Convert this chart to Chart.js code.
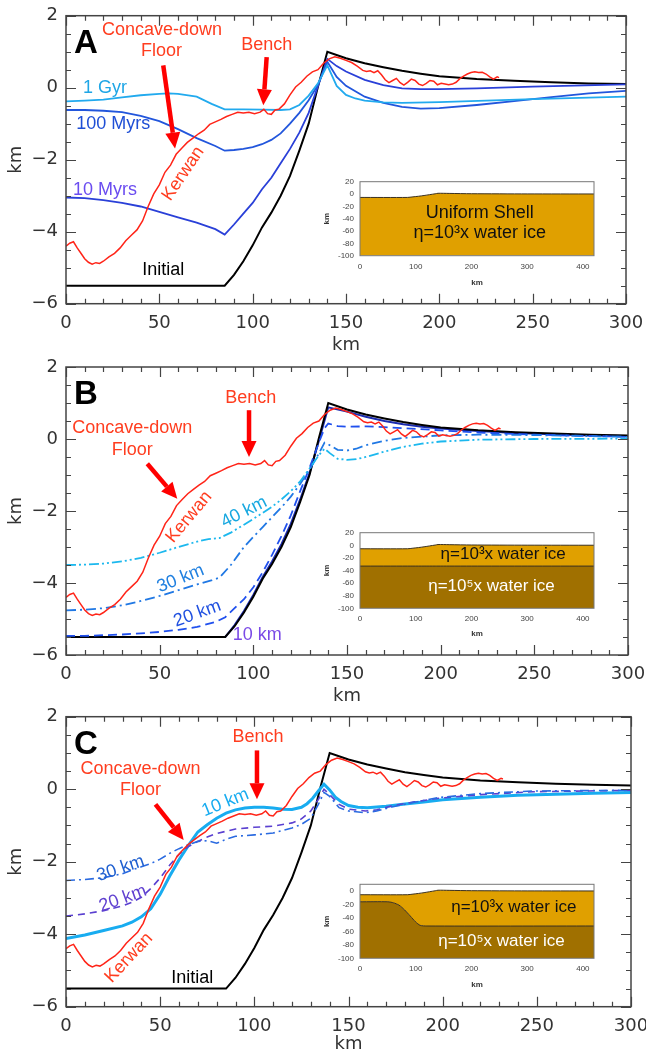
<!DOCTYPE html>
<html>
<head>
<meta charset="utf-8">
<script src="https://cdn.jsdelivr.net/npm/chart.js@4.4.1/dist/chart.umd.min.js"></script>
<style>
  body { margin: 0; background: #fff; }
  #wrap { position: relative; width: 646px; height: 1055px; overflow: hidden; }
  canvas { position: absolute; }
</style>
</head>
<body>
<div id="wrap">
  <canvas id="cA" width="646" height="356" style="left:0;top:0"></canvas>
  <canvas id="cB" width="646" height="356" style="left:0;top:351px"></canvas>
  <canvas id="cC" width="646" height="354" style="left:0;top:701px"></canvas>
  <canvas id="iA" width="278" height="112" style="left:322px;top:176px"></canvas>
  <canvas id="iB" width="278" height="112" style="left:322px;top:527px"></canvas>
  <canvas id="iC" width="278" height="112" style="left:322px;top:878px"></canvas>
</div>
<script>
// ---- profile data (km) ----
const kerwanX = [0,2,4,6,8,10,12,14,16,18,20,23,26,29,32,35,38,41,44,47,50,53,56,59,62,65,68,71,74,77,80,83,86,89,92,95,98,101,104,106,108,110,112,114,117,120,123,126,129,132,135,138,141,144,147,150,153,156,159,161,163,165,167,169,171,173,175,177,179,181,183,185,187,189,191,193,195,197,199,201,203,205,207,209,211,213,215,217,219,221,223,225,227,229,231,232];
const kerwanY = [-4.4,-4.32,-4.28,-4.45,-4.6,-4.75,-4.85,-4.9,-4.86,-4.88,-4.82,-4.7,-4.6,-4.45,-4.25,-4.1,-3.95,-3.7,-3.3,-2.95,-2.7,-2.35,-2.15,-1.85,-1.68,-1.52,-1.4,-1.28,-1.18,-1.02,-0.95,-0.88,-0.8,-0.74,-0.68,-0.7,-0.68,-0.72,-0.68,-0.6,-0.72,-0.74,-0.62,-0.6,-0.45,-0.2,0.02,0.15,0.32,0.44,0.5,0.68,0.8,0.86,0.82,0.76,0.7,0.6,0.48,0.45,0.47,0.42,0.47,0.36,0.22,0.14,0.2,0.26,0.14,0.07,0.15,0.24,0.2,0.1,0.06,0.12,0.2,0.18,0.08,0.12,0.1,0.08,0.1,0.15,0.25,0.32,0.38,0.42,0.44,0.42,0.43,0.38,0.3,0.24,0.3,0.28];

const initialX = [0,85,90,95,100,105,110,115,120,125,130,135,140,150,160,170,180,190,200,220,240,260,280,300];
const initialY = [-5.5,-5.5,-5.2,-4.82,-4.38,-3.88,-3.47,-3.0,-2.45,-1.75,-1.0,0.03,1.0,0.82,0.68,0.57,0.47,0.39,0.32,0.24,0.19,0.15,0.12,0.1];

// panel A: uniform shell, relaxation times
const gyr1X = [0,10,20,30,40,50,55,60,70,78,85,95,105,115,120,125,130,135,140,145,150,155,160,170,180,200,225,250,275,300];
const gyr1Y = [-0.38,-0.36,-0.33,-0.27,-0.21,-0.17,-0.16,-0.17,-0.25,-0.45,-0.6,-0.6,-0.61,-0.62,-0.6,-0.48,-0.22,0.12,0.62,0.05,-0.2,-0.3,-0.36,-0.41,-0.42,-0.4,-0.36,-0.32,-0.28,-0.25];
const myr100X = [0,10,20,30,40,50,60,70,80,85,90,95,100,105,110,115,120,125,130,135,140,145,150,160,170,180,190,200,220,240,260,280,300];
const myr100Y = [-0.62,-0.62,-0.64,-0.68,-0.78,-0.93,-1.15,-1.4,-1.62,-1.75,-1.73,-1.7,-1.65,-1.57,-1.45,-1.27,-1.0,-0.7,-0.35,0.08,0.72,0.3,0.05,-0.25,-0.42,-0.53,-0.58,-0.57,-0.48,-0.37,-0.26,-0.16,-0.09];
const myr10X = [0,10,20,30,40,50,60,70,80,85,90,95,100,105,110,115,120,125,130,135,140,145,150,160,170,180,190,200,220,250,300];
const myr10Y = [-3.05,-3.07,-3.12,-3.2,-3.3,-3.45,-3.6,-3.75,-3.93,-4.08,-3.8,-3.5,-3.2,-2.82,-2.5,-2.1,-1.7,-1.25,-0.7,0.05,0.8,0.6,0.45,0.22,0.07,-0.02,-0.04,-0.04,-0.02,0.03,0.09];

// panel B: two-layer shell, upper layer thickness
const b10X = [0,85,90,95,100,105,110,115,120,125,130,135,140,150,160,170,180,190,200,220,240,260,280,300];
const b10Y = [-5.5,-5.5,-5.17,-4.78,-4.33,-3.83,-3.4,-2.92,-2.36,-1.68,-0.95,-0.05,0.88,0.76,0.62,0.5,0.41,0.34,0.29,0.22,0.17,0.13,0.1,0.08];
const b20X = [0,10,20,30,40,50,60,70,80,85,90,95,100,105,110,115,120,125,130,135,138,140,145,150,160,170,180,200,220,250,300];
const b20Y = [-5.47,-5.47,-5.45,-5.43,-5.4,-5.36,-5.3,-5.22,-5.08,-4.95,-4.7,-4.45,-4.12,-3.7,-3.22,-2.7,-2.12,-1.45,-0.8,-0.1,0.3,0.43,0.36,0.34,0.35,0.33,0.3,0.24,0.18,0.12,0.06];
const b30X = [0,10,20,30,40,50,60,70,78,82,88,95,100,105,110,115,120,125,130,135,138,140,145,150,155,160,170,180,200,220,250,300];
const b30Y = [-4.76,-4.74,-4.7,-4.62,-4.5,-4.36,-4.2,-4.04,-3.92,-3.85,-3.5,-3.0,-2.72,-2.45,-2.17,-1.9,-1.6,-1.25,-0.85,-0.4,-0.1,-0.15,-0.3,-0.32,-0.27,-0.17,-0.05,0.03,0.1,0.12,0.11,0.06];
const b40X = [0,10,20,30,40,50,60,70,76,82,88,95,100,105,110,115,120,125,130,135,138,141,145,150,155,160,170,180,190,200,220,250,300];
const b40Y = [-3.5,-3.49,-3.46,-3.4,-3.3,-3.16,-3.0,-2.85,-2.78,-2.75,-2.6,-2.38,-2.22,-2.05,-1.88,-1.68,-1.45,-1.18,-0.82,-0.45,-0.27,-0.4,-0.55,-0.58,-0.56,-0.5,-0.35,-0.22,-0.13,-0.07,-0.02,0.0,0.01];

// panel C: two-layer shell with thinned lower layer under the crater
const c10X = [0,10,20,30,35,40,45,50,55,60,65,70,75,80,85,90,95,100,105,110,115,120,125,128,131,134,137,140,143,146,150,155,160,170,180,190,200,220,240,260,280,300];
const c10Y = [-4.12,-4.02,-3.9,-3.77,-3.67,-3.52,-3.3,-2.9,-2.4,-1.95,-1.55,-1.18,-0.98,-0.8,-0.66,-0.57,-0.52,-0.5,-0.5,-0.52,-0.55,-0.56,-0.5,-0.4,-0.25,-0.05,0.14,-0.02,-0.22,-0.34,-0.45,-0.5,-0.51,-0.47,-0.41,-0.35,-0.29,-0.22,-0.17,-0.14,-0.11,-0.09];
const c20X = [0,10,20,30,35,40,45,50,55,60,65,70,75,80,90,100,110,120,125,130,134,137,140,145,150,159,165,173,185,198,220,248,300];
const c20Y = [-3.5,-3.44,-3.35,-3.22,-3.12,-2.98,-2.74,-2.45,-2.1,-1.8,-1.58,-1.44,-1.32,-1.22,-1.1,-1.05,-1.02,-0.93,-0.82,-0.6,-0.28,0.0,-0.15,-0.42,-0.55,-0.6,-0.57,-0.46,-0.35,-0.25,-0.15,-0.07,-0.03];
const c30X = [0,10,20,30,35,40,45,50,55,60,65,70,75,80,85,90,100,110,120,125,130,134,137,140,145,150,159,165,173,185,198,220,248,300];
const c30Y = [-2.52,-2.49,-2.44,-2.33,-2.23,-2.14,-2.05,-1.93,-1.77,-1.64,-1.53,-1.44,-1.42,-1.49,-1.38,-1.3,-1.26,-1.21,-1.07,-0.97,-0.8,-0.42,-0.09,-0.2,-0.51,-0.6,-0.65,-0.6,-0.49,-0.36,-0.23,-0.12,-0.05,-0.03];

// insets: shell cross sections (km)
const insetX = [0,85,95,105,115,125,135,140,160,200,300,420];
const insetSurface = [-5.5,-5.5,-4.6,-3.6,-2.4,-1.0,0.4,1.2,1.0,0.5,0.2,0.1];
const insetLayerB = [-33,-33,-33,-33,-33,-33,-33,-33,-33,-33,-33,-33];
const insetLayerCX = [0,50,60,70,80,90,100,108,120,420];
const insetLayerCY = [-16,-16,-17.5,-21,-28,-37,-46,-51,-52,-52];
const insetTicksX = [0,100,200,300,400];
const insetTicksAB = [20,0,-20,-40,-60,-80,-100];
const insetTicksC = [0,-20,-40,-60,-80,-100];

const RED = '#ff2418';
const RED_TXT = '#ff3d1f';
const TICK_FONT = { family: 'DejaVu Sans', size: 18 };
const NOTE_FONT = '18px "Liberation Sans"';

function pts(xs, ys) { return xs.map((x, i) => ({ x: x, y: ys[i] })); }
function line(xs, ys, color, width, dash) {
  return { data: pts(xs, ys), borderColor: color, borderWidth: width, borderDash: dash || [], pointRadius: 0, tension: 0, fill: false };
}
function minus(v) { return v < 0 ? '\u2212' + Math.abs(v) : String(v); }

// keep the plot area where the layout padding puts it
function fixX(h) { return s => { s.height = h; s.paddingLeft = 0; s.paddingRight = 0; }; }
function fixY(w) { return s => { s.width = w; s.paddingTop = 0; s.paddingBottom = 0; }; }

function drawArrow(ctx, x0, y0, x1, y1) {
  const ang = Math.atan2(y1 - y0, x1 - x0);
  const head = 16, half = 7.5;
  const bx = x1 - head * Math.cos(ang), by = y1 - head * Math.sin(ang);
  ctx.strokeStyle = '#ff0000';
  ctx.fillStyle = '#ff0000';
  ctx.lineWidth = 4.5;
  ctx.beginPath(); ctx.moveTo(x0, y0); ctx.lineTo(bx, by); ctx.stroke();
  ctx.beginPath();
  ctx.moveTo(x1, y1);
  ctx.lineTo(bx + half * Math.sin(ang), by - half * Math.cos(ang));
  ctx.lineTo(bx - half * Math.sin(ang), by + half * Math.cos(ang));
  ctx.closePath(); ctx.fill();
}

const deco = {
  id: 'deco',
  beforeDraw(chart, args, o) {
    if (!o.whiteBg) return;
    const a = chart.chartArea, c = chart.ctx;
    c.save(); c.fillStyle = '#fff'; c.fillRect(a.left, a.top, a.width, a.height); c.restore();
  },
  afterDraw(chart, args, o) {
    const ctx = chart.ctx, a = chart.chartArea, sx = chart.scales.x, sy = chart.scales.y;
    ctx.save();
    if (o.ticks) {
      ctx.strokeStyle = '#444'; ctx.lineWidth = 1.2;
      ctx.beginPath();
      for (let v = sx.min; v <= sx.max + 1e-6; v += o.ticks.xMinor) {
        const px = Math.round(sx.getPixelForValue(v)) + 0.5;
        const len = Math.abs(v % o.ticks.xMajor) < 1e-6 ? 10 : 5;
        ctx.moveTo(px, a.bottom); ctx.lineTo(px, a.bottom - len);
        ctx.moveTo(px, a.top); ctx.lineTo(px, a.top + len);
      }
      for (let v = sy.min; v <= sy.max + 1e-6; v += o.ticks.yMinor) {
        const py = Math.round(sy.getPixelForValue(v)) + 0.5;
        const len = Math.abs(v % o.ticks.yMajor) < 1e-6 ? 10 : 5;
        ctx.moveTo(a.left, py); ctx.lineTo(a.left + len, py);
        ctx.moveTo(a.right, py); ctx.lineTo(a.right - len, py);
      }
      ctx.stroke();
    }
    ctx.strokeStyle = o.frameColor; ctx.lineWidth = o.frameWidth;
    ctx.strokeRect(a.left, a.top, a.width, a.height);
    (o.arrows || []).forEach(r => drawArrow(ctx, sx.getPixelForValue(r[0]), sy.getPixelForValue(r[1]), sx.getPixelForValue(r[2]), sy.getPixelForValue(r[3])));
    (o.notes || []).forEach(n => {
      ctx.save();
      ctx.translate(sx.getPixelForValue(n.x), sy.getPixelForValue(n.y));
      ctx.rotate((n.r || 0) * Math.PI / 180);
      ctx.fillStyle = n.c; ctx.font = n.f || NOTE_FONT;
      ctx.textAlign = 'center'; ctx.textBaseline = 'middle';
      ctx.fillText(n.t, 0, 0);
      ctx.restore();
    });
    if (o.letter) {
      ctx.fillStyle = '#000'; ctx.font = 'bold 33px "Liberation Sans"';
      ctx.textAlign = 'left'; ctx.textBaseline = 'alphabetic';
      ctx.fillText(o.letter, a.left + 8, a.top + 37);
    }
    ctx.restore();
  }
};

function mainPanel(id, datasets, pad, deco_opts) {
  return new Chart(document.getElementById(id), {
    type: 'line',
    data: { datasets: datasets },
    options: {
      responsive: false, animation: false, devicePixelRatio: 1,
      layout: { padding: { top: pad.top, right: pad.right, left: 0, bottom: 0 } },
      plugins: { legend: { display: false }, tooltip: { enabled: false }, deco: deco_opts },
      scales: {
        x: {
          type: 'linear', min: 0, max: 300,
          afterFit: fixX(pad.axis),
          grid: { display: false, drawTicks: false }, border: { display: false },
          ticks: { stepSize: 50, padding: 9, maxRotation: 0, font: TICK_FONT, color: '#333' },
          title: { display: true, text: 'km', font: TICK_FONT, color: '#333', padding: { top: 0, bottom: 0 } }
        },
        y: {
          type: 'linear', min: -6, max: 2,
          afterFit: fixY(66),
          grid: { display: false, drawTicks: false }, border: { display: false },
          ticks: { stepSize: 2, padding: 8, font: TICK_FONT, color: '#333', callback: minus },
          title: { display: true, text: 'km', font: TICK_FONT, color: '#333', padding: { top: 6, bottom: 0 } }
        }
      }
    },
    plugins: [deco]
  });
}

const tickSpec = { xMinor: 10, xMajor: 50, yMinor: 0.5, yMajor: 2 };
const frame = { frameColor: '#444', frameWidth: 1.5, ticks: tickSpec };

mainPanel('cA', [
  line(kerwanX, kerwanY, RED, 1.5),
  line(gyr1X, gyr1Y, '#22aaee', 1.8),
  line(myr100X, myr100Y, '#2256dc', 1.8),
  line(myr10X, myr10Y, '#2a40d8', 1.8),
  line(initialX, initialY, '#000', 2)
], { top: 15.7, right: 20, axis: 52.3 }, Object.assign({
  letter: 'A',
  arrows: [[52.1, 0.62, 58.4, -1.69], [107.5, 0.85, 105.7, -0.49]],
  notes: [
    { t: 'Concave-down', x: 51.4, y: 1.61, c: RED_TXT },
    { t: 'Floor', x: 51.2, y: 1.02, c: RED_TXT },
    { t: 'Bench', x: 107.5, y: 1.19, c: RED_TXT },
    { t: '1 Gyr', x: 20.9, y: 0.0, c: '#1fa6e6' },
    { t: '100 Myrs', x: 25.3, y: -1.0, c: '#1f4fd6' },
    { t: '10 Myrs', x: 20.9, y: -2.83, c: '#6a4cf0' },
    { t: 'Kerwan', x: 62.8, y: -2.39, c: RED_TXT, r: -56 },
    { t: 'Initial', x: 52.1, y: -5.07, c: '#000' }
  ]
}, frame));

mainPanel('cB', [
  line(kerwanX, kerwanY, RED, 1.5),
  line(b40X, b40Y, '#1cb8ee', 1.8, [10, 3, 2, 3, 2, 3]),
  line(b30X, b30Y, '#2078e4', 1.8, [10, 4, 2, 4]),
  line(b20X, b20Y, '#2050ee', 1.8, [9, 5]),
  line(initialX, initialY, '#000', 2),
  line(b10X, b10Y, '#1c2cb0', 2)
], { top: 16, right: 18, axis: 52 }, Object.assign({
  letter: 'B',
  arrows: [[97.7, 0.8, 97.7, -0.5], [43.4, -0.69, 59.4, -1.66]],
  notes: [
    { t: 'Bench', x: 98.6, y: 1.15, c: RED_TXT },
    { t: 'Concave-down', x: 35.4, y: 0.31, c: RED_TXT },
    { t: 'Floor', x: 35.4, y: -0.3, c: RED_TXT },
    { t: 'Kerwan', x: 65.7, y: -2.17, c: RED_TXT, r: -50 },
    { t: '40 km', x: 95, y: -2.03, c: '#18a8e0', r: -27 },
    { t: '30 km', x: 61.2, y: -3.88, c: '#2080e0', r: -22 },
    { t: '20 km', x: 70.1, y: -4.85, c: '#2050e0', r: -20 },
    { t: '10 km', x: 102.1, y: -5.45, c: '#7a4ae6' }
  ]
}, frame));

mainPanel('cC', [
  line(kerwanX, kerwanY, RED, 1.5),
  line(c30X, c30Y, '#2a6ae0', 1.6, [9, 4, 2, 4]),
  line(c20X, c20Y, '#5a40d0', 1.6, [7, 5]),
  line(c10X, c10Y, '#18acf0', 3),
  line(initialX, initialY, '#000', 2)
], { top: 15.7, right: 15, axis: 48.3 }, Object.assign({
  letter: 'C',
  arrows: [[101.4, 1.07, 101.4, -0.28], [47.5, -0.42, 62.5, -1.4]],
  notes: [
    { t: 'Bench', x: 101.9, y: 1.44, c: RED_TXT },
    { t: 'Concave-down', x: 39.6, y: 0.56, c: RED_TXT },
    { t: 'Floor', x: 39.6, y: -0.03, c: RED_TXT },
    { t: '10 km', x: 84.6, y: -0.37, c: '#18acf0', r: -22 },
    { t: '30 km', x: 29, y: -2.19, c: '#2060d0', r: -19 },
    { t: '20 km', x: 30.2, y: -3.02, c: '#6040d0', r: -20 },
    { t: 'Kerwan', x: 33.4, y: -4.65, c: RED_TXT, r: -47 },
    { t: 'Initial', x: 67, y: -5.21, c: '#000' }
  ]
}, frame));

// ---- insets ----
const ORANGE = '#e0a000';
const BROWN = '#a07000';
const SMALL = { family: 'Liberation Sans', size: 8 };
const SMALL_B = { family: 'Liberation Sans', size: 8, weight: 'bold' };

function insetPanel(id, datasets, ymax, yticks, pad, notes) {
  return new Chart(document.getElementById(id), {
    type: 'line',
    data: { datasets: datasets },
    options: {
      responsive: false, animation: false, devicePixelRatio: 1,
      layout: { padding: { top: pad.top, right: 6, left: 0, bottom: 0 } },
      plugins: { legend: { display: false }, tooltip: { enabled: false },
        deco: { whiteBg: true, frameColor: '#777', frameWidth: 1, notes: notes } },
      scales: {
        x: {
          type: 'linear', min: 0, max: 420,
          afterFit: fixX(pad.axis),
          afterBuildTicks: s => { s.ticks = insetTicksX.map(v => ({ value: v })); },
          grid: { display: false, drawTicks: false }, border: { display: false },
          ticks: { padding: 6, maxRotation: 0, autoSkip: false, font: SMALL, color: '#444' },
          title: { display: true, text: 'km', font: SMALL_B, color: '#333', padding: { top: 2, bottom: 0 } }
        },
        y: {
          type: 'linear', min: -100, max: ymax,
          afterFit: fixY(38),
          afterBuildTicks: s => { s.ticks = yticks.map(v => ({ value: v })); },
          grid: { display: false, drawTicks: false }, border: { display: false },
          ticks: { padding: 6, autoSkip: false, font: SMALL, color: '#444' },
          title: { display: true, text: 'km', font: SMALL_B, color: '#333', padding: { top: 0, bottom: 2 } }
        }
      }
    },
    plugins: [deco]
  });
}

function layer(xs, ys, fillColor, fillTo) {
  return { data: pts(xs, ys), borderColor: '#3a3020', borderWidth: 1, pointRadius: 0, tension: 0.25,
    fill: fillTo, backgroundColor: fillColor };
}

insetPanel('iA', [
  layer(insetX, insetSurface, ORANGE, 'start')
], 20, insetTicksAB, { top: 5.7, axis: 32.3 }, [
  { t: 'Uniform Shell', x: 215, y: -31, c: '#111', f: '18px "Liberation Sans"' },
  { t: 'η=10³x water ice', x: 215, y: -63.5, c: '#111', f: '18px "Liberation Sans"' }
]);

insetPanel('iB', [
  layer(insetX, insetLayerB, BROWN, 'start'),
  layer(insetX, insetSurface, ORANGE, '-1')
], 20, insetTicksAB, { top: 5.7, axis: 30.7 }, [
  { t: 'η=10³x water ice', x: 257, y: -13.8, c: '#111', f: '17px "Liberation Sans"' },
  { t: 'η=10⁵x water ice', x: 236, y: -65.7, c: '#fff', f: '17px "Liberation Sans"' }
]);

insetPanel('iC', [
  layer(insetLayerCX, insetLayerCY, BROWN, 'start'),
  layer(insetX, insetSurface, ORANGE, '-1')
], 10, insetTicksC, { top: 6.3, axis: 31.7 }, [
  { t: 'η=10³x water ice', x: 276, y: -24.2, c: '#111', f: '17px "Liberation Sans"' },
  { t: 'η=10⁵x water ice', x: 254, y: -75.3, c: '#fff', f: '17px "Liberation Sans"' }
]);
</script>
</body>
</html>
